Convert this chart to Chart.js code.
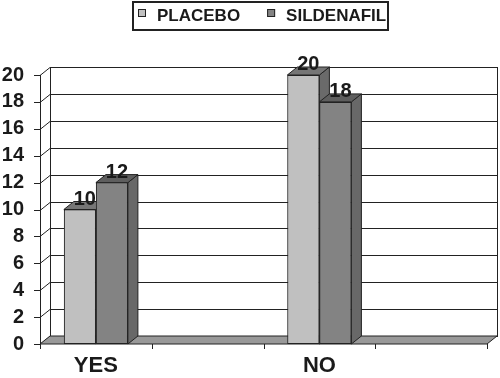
<!DOCTYPE html>
<html>
<head>
<meta charset="utf-8">
<script src="https://cdn.jsdelivr.net/npm/chart.js@4.4.1/dist/chart.umd.min.js"></script>
<style>
html, body { margin: 0; padding: 0; background: #fff; }
</style>
</head>
<body>
<canvas id="chart" width="500" height="378"></canvas>
<script>
// data
var categories = ['YES', '', 'NO', ''];
var placebo = [10, null, 20, null];
var sildenafil = [12, null, 18, null];
var seriesNames = ['PLACEBO', 'SILDENAFIL'];
var yMax = 20;
var yStep = 2;

var FONT = "'Liberation Sans', Arial, sans-serif";
var DX = 10, DY = -8; // depth of the 3d box

var box3d = {
    id: 'box3d',
    beforeDatasetsDraw: function (chart) {
        var ctx = chart.ctx, a = chart.chartArea;
        var ys = chart.scales.y, xs = chart.scales.x;
        ctx.save();
        ctx.strokeStyle = '#222';
        ctx.lineWidth = 1;

        // back wall
        ctx.strokeRect(a.left + DX + 0.5, a.top + DY + 0.5, a.right - a.left, a.bottom - a.top);

        // gridlines on the wall + left side of the box + y tick marks
        ys.ticks.forEach(function (t) {
            var y = Math.round(ys.getPixelForValue(t.value)) + 0.5;
            ctx.beginPath();
            ctx.moveTo(a.left - 6, y);
            ctx.lineTo(a.left, y);
            ctx.lineTo(a.left + DX, y + DY);
            ctx.lineTo(a.right + DX, y + DY);
            ctx.stroke();
        });
        ctx.beginPath();
        ctx.moveTo(a.left + 0.5, a.top);
        ctx.lineTo(a.left + 0.5, a.bottom);
        ctx.stroke();

        // floor
        ctx.fillStyle = '#999';
        ctx.beginPath();
        ctx.moveTo(a.left, a.bottom);
        ctx.lineTo(a.right, a.bottom);
        ctx.lineTo(a.right + DX, a.bottom + DY);
        ctx.lineTo(a.left + DX, a.bottom + DY);
        ctx.closePath();
        ctx.fill();
        ctx.stroke();

        // x tick marks at category edges
        for (var i = 0; i <= categories.length; i++) {
            var x = Math.round(xs.getPixelForValue(i - 0.5)) + 0.5;
            ctx.beginPath();
            ctx.moveTo(x, a.bottom);
            ctx.lineTo(x, a.bottom + 5);
            ctx.stroke();
        }
        ctx.restore();
    },
    afterDatasetsDraw: function (chart) {
        var ctx = chart.ctx;
        var labels = [];
        ctx.save();
        ctx.strokeStyle = '#222';
        ctx.lineWidth = 1;
        chart.data.datasets.forEach(function (ds, di) {
            var meta = chart.getDatasetMeta(di);
            meta.data.forEach(function (bar, i) {
                if (ds.data[i] == null) return;
                var p = bar.getProps(['x', 'y', 'base', 'width'], true);
                var l = p.x - p.width / 2, r = p.x + p.width / 2;
                // side
                ctx.fillStyle = ds.sideColor;
                ctx.beginPath();
                ctx.moveTo(r, p.y);
                ctx.lineTo(r + DX, p.y + DY);
                ctx.lineTo(r + DX, p.base + DY);
                ctx.lineTo(r, p.base);
                ctx.closePath();
                ctx.fill();
                ctx.stroke();
                // top
                ctx.fillStyle = ds.topColor;
                ctx.beginPath();
                ctx.moveTo(l, p.y);
                ctx.lineTo(r, p.y);
                ctx.lineTo(r + DX, p.y + DY);
                ctx.lineTo(l + DX, p.y + DY);
                ctx.closePath();
                ctx.fill();
                ctx.stroke();
                // front again on top of the neighbour's side
                bar.draw(ctx);
                labels.push({ text: String(ds.data[i]), x: p.x + DX / 2, y: p.y - 5 });
            });
        });
        ctx.fillStyle = '#1a1a1a';
        ctx.font = 'bold 20px ' + FONT;
        ctx.textAlign = 'center';
        ctx.textBaseline = 'alphabetic';
        labels.forEach(function (lb) { ctx.fillText(lb.text, lb.x, lb.y); });
        ctx.restore();
    },
    afterDraw: function (chart) {
        // legend in a framed box
        var ctx = chart.ctx;
        ctx.save();
        ctx.strokeStyle = '#222';
        ctx.lineWidth = 2;
        ctx.strokeRect(133, 2, 255, 28);
        ctx.font = 'bold 17px ' + FONT;
        ctx.textBaseline = 'middle';
        ctx.textAlign = 'left';
        var x = 138;
        chart.data.datasets.forEach(function (ds) {
            ctx.fillStyle = ds.backgroundColor;
            ctx.lineWidth = 1;
            ctx.fillRect(x, 9, 8, 8);
            ctx.strokeRect(x + 0.5, 9.5, 7, 7);
            ctx.fillStyle = '#1a1a1a';
            ctx.fillText(ds.label, x + 19, 16);
            x += 19 + ctx.measureText(ds.label).width + 27;
        });
        ctx.restore();
    }
};

new Chart(document.getElementById('chart'), {
    type: 'bar',
    data: {
        labels: categories,
        datasets: [
            {
                label: seriesNames[0],
                data: placebo,
                backgroundColor: '#c0c0c0',
                topColor: '#767676',
                sideColor: '#6a6a6a',
                borderColor: '#222',
                borderWidth: 1,
                borderSkipped: false
            },
            {
                label: seriesNames[1],
                data: sildenafil,
                backgroundColor: '#838383',
                topColor: '#5e5e5e',
                sideColor: '#686868',
                borderColor: '#222',
                borderWidth: 1,
                borderSkipped: false
            }
        ]
    },
    options: {
        responsive: false,
        animation: false,
        layout: { padding: { top: 75, right: 13, left: 0, bottom: 0 } },
        categoryPercentage: 0.573,
        barPercentage: 1,
        plugins: {
            legend: { display: false },
            tooltip: { enabled: false }
        },
        scales: {
            x: {
                grid: { display: false, drawTicks: false },
                border: { display: false },
                ticks: {
                    padding: 9,
                    autoSkip: false,
                    maxRotation: 0,
                    color: '#1a1a1a',
                    font: { family: FONT, size: 22, weight: 'bold' }
                },
                afterFit: function (s) { s.height = 34; }
            },
            y: {
                min: 0,
                max: yMax,
                grid: { display: false, drawTicks: false },
                border: { display: false },
                ticks: {
                    stepSize: yStep,
                    autoSkip: false,
                    padding: 16,
                    color: '#1a1a1a',
                    font: { family: FONT, size: 20, weight: 'bold' }
                },
                afterFit: function (s) { s.width = 40; }
            }
        }
    },
    plugins: [box3d]
});
</script>
</body>
</html>
